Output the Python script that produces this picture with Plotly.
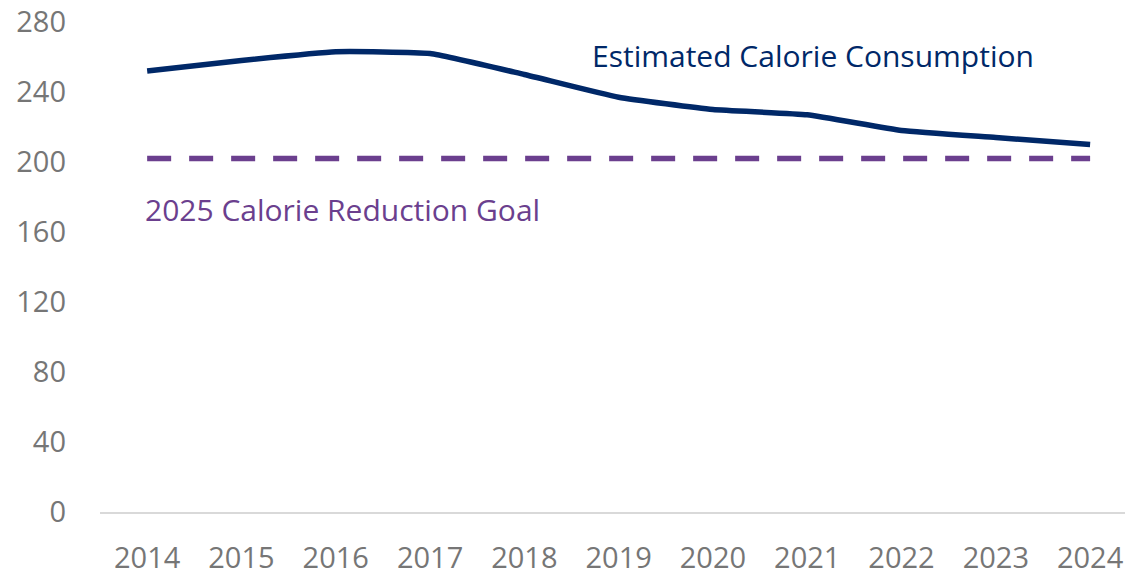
import plotly.graph_objects as go

# Annual estimated calorie consumption vs. the 2025 reduction goal
years = [2014, 2015, 2016, 2017, 2018, 2019, 2020, 2021, 2022, 2023, 2024]
consumption = [252, 258, 263, 262, 250, 237, 230, 227, 218, 214, 210]
goal = [202] * len(years)
y_ticks = [0, 40, 80, 120, 160, 200, 240, 280]

NAVY = "#002868"
PURPLE = "#6B3F8E"
GREY = "#767676"
FONT = "Open Sans"

fig = go.Figure()

fig.add_trace(go.Scatter(
    x=years, y=goal, mode="lines",
    line=dict(color=PURPLE, width=5.5, dash="24px,18px"),
    hoverinfo="skip", showlegend=False,
))
fig.add_trace(go.Scatter(
    x=years, y=consumption, mode="lines",
    line=dict(color=NAVY, width=5.5, shape="spline", smoothing=0.4),
    showlegend=False,
))

fig.add_annotation(
    x=2018.7, y=261, xref="x", yref="y", text="Estimated Calorie Consumption",
    showarrow=False, xanchor="left", yanchor="middle",
    font=dict(family=FONT, size=30, color=NAVY),
)
fig.add_annotation(
    x=2013.96, y=173, xref="x", yref="y", text="2025 Calorie Reduction Goal",
    showarrow=False, xanchor="left", yanchor="middle",
    font=dict(family=FONT, size=30, color=PURPLE),
)

fig.update_layout(
    width=1125, height=574,
    margin=dict(l=100, r=0, t=22, b=62, autoexpand=False),
    paper_bgcolor="white", plot_bgcolor="white",
    font=dict(family=FONT, color=GREY, size=29),
)
fig.update_xaxes(
    range=[2013.5, 2024.37], tickvals=years, ticktext=[str(y) for y in years],
    showgrid=False, zeroline=False, showline=True, linecolor="#D9D9D9", linewidth=1.5,
    ticks="", ticklabelstandoff=19, tickfont=dict(size=29, color=GREY), automargin=False,
)
fig.update_yaxes(
    range=[0, 280], tickvals=y_ticks, showgrid=False, zeroline=False, showline=False,
    ticks="", ticklabelstandoff=33, tickfont=dict(size=29, color=GREY), automargin=False,
)

fig.write_html("out.html")
